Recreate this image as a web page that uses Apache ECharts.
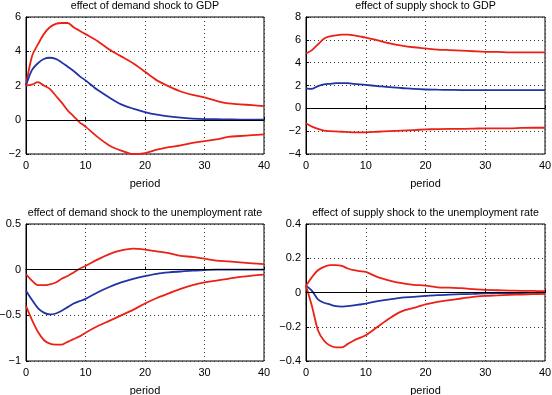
<!DOCTYPE html>
<html lang="en" style="height: 100%">
<head>
<meta charset="utf-8">
<title>Impulse responses</title>
</head>
<body style="height: 100%; margin: 0; background: #fff">
<div id="container" style="width: 552px; height: 395px"></div>
<script type="text/javascript" src="https://cdn.jsdelivr.net/npm/echarts@6/dist/echarts.min.js"></script>
<script type="text/javascript">
var periods = [0, 1, 2, 3, 4, 5, 6, 7, 8, 9, 10, 12, 14, 16, 18, 20, 22, 24, 26, 28, 30, 32, 34, 36, 38, 40];

// demand shock -> GDP
var dGdpUpper = [2.0, 3.7, 4.4, 5.0, 5.4, 5.6, 5.65, 5.65, 5.4, 5.2, 5.0, 4.6, 4.1, 3.7, 3.3, 2.8, 2.3, 1.95, 1.65, 1.45, 1.3, 1.1, 0.95, 0.9, 0.85, 0.8];
var dGdpMid = [2.0, 2.9, 3.3, 3.55, 3.62, 3.55, 3.35, 3.1, 2.85, 2.55, 2.3, 1.75, 1.3, 0.9, 0.65, 0.45, 0.3, 0.2, 0.12, 0.07, 0.04, 0.03, 0.02, 0.01, 0.01, 0.0];
var dGdpLower = [2.0, 2.05, 2.2, 2.0, 1.8, 1.4, 1.0, 0.55, 0.2, -0.15, -0.4, -1.0, -1.5, -1.8, -2.0, -1.95, -1.75, -1.6, -1.5, -1.35, -1.25, -1.15, -1.0, -0.95, -0.9, -0.85];

// supply shock -> GDP
var sGdpUpper = [4.8, 5.1, 5.6, 6.1, 6.3, 6.4, 6.45, 6.45, 6.4, 6.3, 6.2, 5.95, 5.7, 5.5, 5.35, 5.25, 5.15, 5.1, 5.05, 5.0, 4.95, 4.95, 4.9, 4.9, 4.9, 4.9];
var sGdpMid = [1.75, 1.7, 1.95, 2.1, 2.15, 2.2, 2.2, 2.2, 2.15, 2.1, 2.05, 1.95, 1.85, 1.78, 1.7, 1.65, 1.63, 1.62, 1.6, 1.6, 1.6, 1.6, 1.6, 1.6, 1.6, 1.6];
var sGdpLower = [-1.3, -1.6, -1.8, -1.95, -2.0, -2.02, -2.05, -2.08, -2.1, -2.1, -2.1, -2.05, -2.0, -1.95, -1.9, -1.85, -1.82, -1.8, -1.8, -1.78, -1.75, -1.75, -1.75, -1.72, -1.7, -1.7];

// demand shock -> unemployment
var dUnUpper = [-0.05, -0.12, -0.17, -0.17, -0.16, -0.14, -0.1, -0.07, -0.03, 0.01, 0.04, 0.11, 0.17, 0.21, 0.23, 0.22, 0.2, 0.18, 0.15, 0.14, 0.12, 0.1, 0.09, 0.08, 0.07, 0.06];
var dUnMid = [-0.23, -0.33, -0.42, -0.47, -0.49, -0.48, -0.45, -0.41, -0.37, -0.345, -0.32, -0.25, -0.19, -0.14, -0.1, -0.07, -0.045, -0.03, -0.02, -0.01, -0.005, 0, 0, 0, 0, 0];
var dUnLower = [-0.4, -0.55, -0.68, -0.77, -0.81, -0.82, -0.82, -0.79, -0.76, -0.73, -0.69, -0.62, -0.56, -0.5, -0.44, -0.37, -0.31, -0.26, -0.21, -0.17, -0.14, -0.12, -0.1, -0.08, -0.065, -0.055];

// supply shock -> unemployment
var sUnUpper = [0.04, 0.09, 0.13, 0.15, 0.16, 0.16, 0.155, 0.14, 0.13, 0.125, 0.12, 0.09, 0.07, 0.055, 0.045, 0.04, 0.03, 0.028, 0.025, 0.02, 0.015, 0.013, 0.011, 0.01, 0.009, 0.008];
var sUnMid = [0.04, 0.01, -0.04, -0.06, -0.07, -0.08, -0.082, -0.08, -0.075, -0.07, -0.065, -0.05, -0.04, -0.03, -0.025, -0.02, -0.015, -0.012, -0.01, -0.008, -0.005, -0.004, -0.003, -0.003, -0.002, -0.002];
var sUnLower = [0.04, -0.08, -0.22, -0.28, -0.31, -0.32, -0.32, -0.3, -0.28, -0.265, -0.25, -0.2, -0.15, -0.11, -0.09, -0.07, -0.055, -0.045, -0.035, -0.025, -0.02, -0.017, -0.014, -0.012, -0.01, -0.008];

var titles = [
    'effect of demand shock to GDP',
    'effect of supply shock to GDP',
    'effect of demand shock to the unemployment rate',
    'effect of supply shock to the unemployment rate'
];
var yRanges = [[-2, 6, 2], [-4, 8, 2], [-1, 0.5, 0.5], [-0.4, 0.4, 0.2]];
var panelData = [
    [dGdpUpper, dGdpMid, dGdpLower],
    [sGdpUpper, sGdpMid, sGdpLower],
    [dUnUpper, dUnMid, dUnLower],
    [sUnUpper, sUnMid, sUnLower]
];

var RED = '#ec2116';
var BLUE = '#2233a6';
var FONT = 'Liberation Sans';

var grids = [
    { left: 26, top: 17, width: 238, height: 137 },
    { left: 306, top: 17, width: 239, height: 137 },
    { left: 26, top: 224, width: 238, height: 137 },
    { left: 306, top: 224, width: 239, height: 137 }
];

function pairs(ys) {
    return periods.map(function (p, i) { return [p, ys[i]]; });
}

var option = {
    backgroundColor: '#fff',
    animation: false,
    title: [],
    grid: [],
    xAxis: [],
    yAxis: [],
    series: []
};

grids.forEach(function (g, k) {
    option.grid.push({
        left: g.left, top: g.top, width: g.width, height: g.height,
        containLabel: false, outerBoundsMode: 'none',
        show: true, borderColor: '#000', borderWidth: 1, backgroundColor: '#fff'
    });
    option.title.push({
        text: titles[k],
        left: g.left + g.width / 2,
        top: g.top - 16,
        padding: 0,
        textAlign: 'center',
        textStyle: { fontFamily: FONT, fontSize: 10.7, fontWeight: 'normal', color: '#000' }
    });
    option.xAxis.push({
        type: 'value', gridIndex: k, min: 0, max: 40, interval: 10,
        name: 'period', nameLocation: 'middle', nameGap: 24,
        nameTextStyle: { fontFamily: FONT, fontSize: 11, color: '#000' },
        axisLine: { lineStyle: { color: '#000' } },
        axisTick: { inside: true, length: 3, lineStyle: { color: '#000' } },
        axisLabel: { fontFamily: FONT, fontSize: 11, color: '#000', margin: 6 },
        splitLine: { show: true, lineStyle: { type: [1, 3], color: '#333' } }
    });
    var r = yRanges[k];
    option.yAxis.push({
        type: 'value', gridIndex: k, min: r[0], max: r[1], interval: r[2],
        axisLine: { show: true, lineStyle: { color: '#000' } },
        axisTick: { show: true, inside: true, length: 3, lineStyle: { color: '#000' } },
        axisLabel: {
            fontFamily: FONT, fontSize: 11, color: '#000', margin: 5,
            formatter: function (v) { return String(v).replace('-', '\u2212'); }
        },
        splitLine: { show: true, lineStyle: { type: [1, 3], color: '#333' } }
    });
    var d = panelData[k];
    var colors = [RED, BLUE, RED];
    d.forEach(function (ys, j) {
        var s = {
            type: 'line', xAxisIndex: k, yAxisIndex: k,
            data: pairs(ys), smooth: 0.3, symbol: 'none',
            lineStyle: { color: colors[j], width: 1.8 },
            silent: true, z: 3
        };
        if (j === 1) {
            s.markLine = {
                silent: true, symbol: 'none', label: { show: false },
                lineStyle: { color: '#000', type: 'solid', width: 1 },
                data: [{ yAxis: 0 }]
            };
        }
        option.series.push(s);
    });
});

var chart = echarts.init(document.getElementById('container'), null, { renderer: 'canvas' });
chart.setOption(option);
</script>
</body>
</html>
